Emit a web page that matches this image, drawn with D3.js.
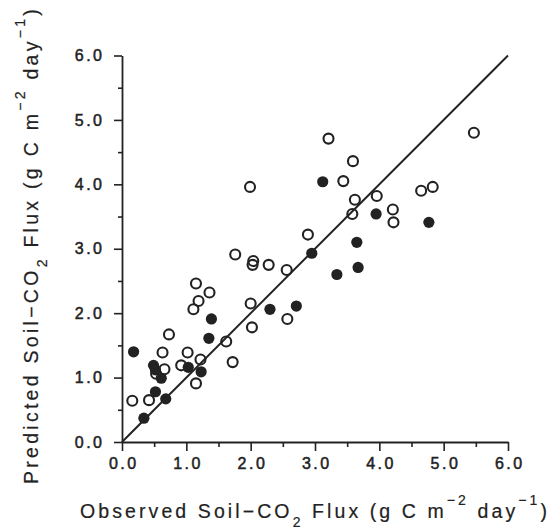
<!DOCTYPE html>
<html>
<head>
<meta charset="utf-8">
<script src="https://cdn.jsdelivr.net/npm/d3@7"></script>
<style>
  html, body { margin: 0; padding: 0; background: #fff; }
  svg { display: block; }
  .tick text { font-family: "Liberation Sans", Arial, sans-serif; font-size: 16px; fill: #222; stroke: #222; stroke-width: 0.5px; letter-spacing: 2.5px; }
  .title { font-family: "Liberation Sans", Arial, sans-serif; font-size: 19.5px; fill: #222; stroke: #222; stroke-width: 0.2px; }
</style>
</head>
<body>
<svg id="chart" width="555" height="529"></svg>
<script>
// Observed vs predicted soil-CO2 flux (open circles)
const openObserved  = [0.16,0.42,0.53,0.66,0.63,0.73,0.92,1.02,1.15,1.22,1.11,1.19,1.15,1.36,1.62,1.72,1.76,1.99,2.00,2.02,2.04,2.03,2.28,2.56,2.57,2.89,3.21,3.44,3.59,3.62,3.58,3.96,4.21,4.22,4.65,4.83,5.47];
const openPredicted = [0.64,0.65,1.06,1.13,1.39,1.67,1.19,1.39,0.91,1.28,2.06,2.19,2.46,2.32,1.56,1.24,2.91,3.96,2.15,1.78,2.81,2.75,2.75,2.67,1.91,3.22,4.71,4.05,4.36,3.76,3.54,3.82,3.61,3.41,3.90,3.96,4.80];
// (filled circles)
const filledObserved  = [0.18,0.34,0.49,0.52,0.52,0.61,0.68,1.03,1.23,1.35,1.39,2.30,2.71,2.95,3.12,3.34,3.65,3.67,3.95,4.77];
const filledPredicted = [1.40,0.37,1.19,1.12,0.78,0.99,0.67,1.16,1.09,1.61,1.91,2.06,2.11,2.93,4.04,2.60,3.10,2.71,3.54,3.41];
const majorTicks = [0,1,2,3,4,5,6];
const minorTicks = [0.5,1.5,2.5,3.5,4.5,5.5];
const oneToOne = [0,6];

const svg = d3.select("#chart");
const x = d3.scaleLinear().domain([0,6]).range([122,508]);
const y = d3.scaleLinear().domain([0,6]).range([442,55.5]);
const fmt = d3.format(".1f");
const LS = 2.5;

// minor ticks
svg.append("g").attr("transform","translate(0,442)")
  .call(d3.axisBottom(x).tickValues(minorTicks).tickSize(5).tickFormat("").tickSizeOuter(0))
  .call(g=>g.select(".domain").remove())
  .call(g=>g.selectAll("line").attr("stroke","#222").attr("stroke-width",1.6));
svg.append("g").attr("transform","translate(122,0)")
  .call(d3.axisLeft(y).tickValues(minorTicks).tickSize(4).tickFormat("").tickSizeOuter(0))
  .call(g=>g.select(".domain").remove())
  .call(g=>g.selectAll("line").attr("stroke","#222").attr("stroke-width",1.6));

// major axes
const xa = svg.append("g").attr("transform","translate(0,442)")
  .call(d3.axisBottom(x).tickValues(majorTicks).tickSize(9).tickPadding(7).tickFormat(fmt).tickSizeOuter(0));
xa.select(".domain").attr("stroke","#222").attr("stroke-width",1.8);
xa.selectAll("line").attr("stroke","#222").attr("stroke-width",1.6);
xa.selectAll("text").attr("dx",(LS/2)+"px");

const ya = svg.append("g").attr("transform","translate(122,0)")
  .call(d3.axisLeft(y).tickValues(majorTicks).tickSize(8).tickPadding(12).tickFormat(fmt).tickSizeOuter(0));
ya.select(".domain").attr("stroke","#222").attr("stroke-width",1.8);
ya.selectAll("line").attr("stroke","#222").attr("stroke-width",1.6);
ya.selectAll("text").attr("dx",LS+"px");

// 1:1 line
svg.append("line")
  .attr("x1",x(oneToOne[0])).attr("y1",y(oneToOne[0]))
  .attr("x2",x(oneToOne[1])).attr("y2",y(oneToOne[1]))
  .attr("stroke","#222").attr("stroke-width",2);

// points
svg.append("g").selectAll("circle").data(openObserved.map((d,i)=>[d,openPredicted[i]]))
  .join("circle").attr("cx",d=>x(d[0])).attr("cy",d=>y(d[1])).attr("r",5)
  .attr("fill","none").attr("stroke","#222").attr("stroke-width",2.1);
svg.append("g").selectAll("circle").data(filledObserved.map((d,i)=>[d,filledPredicted[i]]))
  .join("circle").attr("cx",d=>x(d[0])).attr("cy",d=>y(d[1])).attr("r",5.6)
  .attr("fill","#222");

function buildTitle(t, lead) {
  t.append("tspan").text(lead + " Soil\u2212CO");
  t.append("tspan").attr("dy",9).attr("font-size","14px").text("2");
  t.append("tspan").attr("dy",-9).text(" Flux (g C m");
  t.append("tspan").attr("dy",-13).attr("font-size","14px").text("\u22122");
  t.append("tspan").attr("dy",13).text(" day");
  t.append("tspan").attr("dy",-13).attr("font-size","14px").text("\u22121");
  t.append("tspan").attr("dy",13).text(")");
}
function fitSpacing(t, target) {
  const node = t.node();
  const len = node.getComputedTextLength();
  const n = node.textContent.length;
  t.style("letter-spacing", ((target - len) / n) + "px");
}

// x title
const xt = svg.append("text").attr("class","title").attr("x",80).attr("y",518);
buildTitle(xt, "Observed");
fitSpacing(xt, 470);

// y title
const yt = svg.append("text").attr("class","title").attr("transform","translate(38,484) rotate(-90)");
buildTitle(yt, "Predicted");
fitSpacing(yt, 478);
</script>
</body>
</html>
